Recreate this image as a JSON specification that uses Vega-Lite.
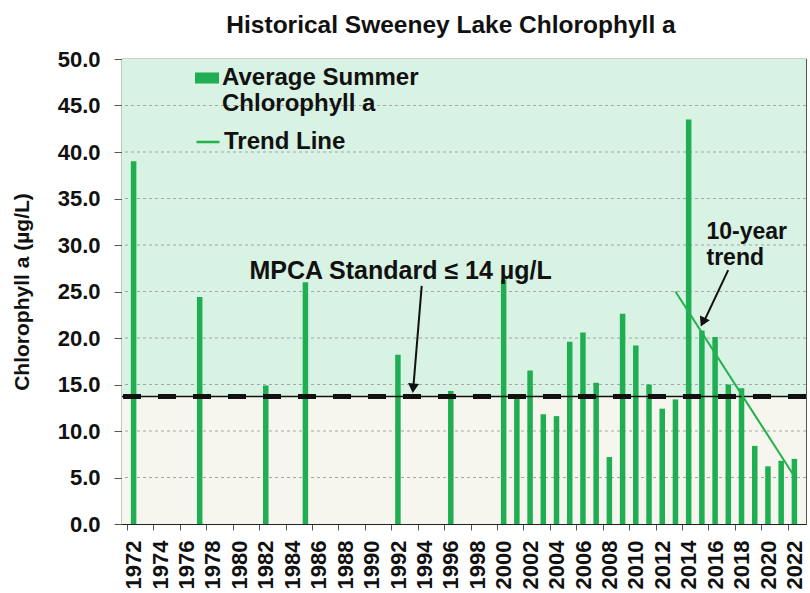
{
  "$schema": "https://vega.github.io/schema/vega-lite/v6.json",
  "width": 684,
  "height": 465,
  "autosize": {"type": "none"},
  "padding": {"left": 122, "top": 59, "right": 4, "bottom": 69},
  "background": "white",
  "title": {"text": "Historical Sweeney Lake Chlorophyll a", "fontSize": 24.5, "fontWeight": "bold", "font": "Liberation Sans", "color": "#111111", "anchor": "middle", "dx": -13, "offset": 10},
  "config": {
    "font": "Liberation Sans",
    "view": {"stroke": "#444444", "strokeWidth": 1.2},
    "axisX": {"labelOverlap": false, "labelBound": false, "labelFlush": false}
  },
  "encoding": {
    "x": {"type": "quantitative", "scale": {"domain": [1971.5, 2022.5], "nice": false, "zero": false},
      "axis": {"title": null, "values": [1971.5, 1973.5, 1975.5, 1977.5, 1979.5, 1981.5, 1983.5, 1985.5, 1987.5, 1989.5, 1991.5, 1993.5, 1995.5, 1997.5, 1999.5, 2001.5, 2003.5, 2005.5, 2007.5, 2009.5, 2011.5, 2013.5, 2015.5, 2017.5, 2019.5, 2021.5],
        "labelExpr": "format(datum.value + 0.5, 'd')", "labelOffset": 6.7, "labelAngle": -90, "labelAlign": "right", "labelBaseline": "middle",
        "labelFontSize": 22, "labelFontWeight": "bold", "labelColor": "#111111", "labelPadding": 10, "tickSize": 6, "tickColor": "#555555", "domainColor": "#222222", "grid": false, "labelOverlap": false, "labelBound": false, "labelFlush": false}},
    "y": {"type": "quantitative", "scale": {"domain": [0, 50], "nice": false},
      "axis": {"title": "Chlorophyll a (µg/L)", "titleFontSize": 21, "titleFontWeight": "bold", "titleColor": "#111111", "titlePadding": 25,
        "values": [0, 5, 10, 15, 20, 25, 30, 35, 40, 45, 50], "format": ".1f", "labelFontSize": 22, "labelFontWeight": "bold", "labelColor": "#111111", "labelPadding": 14, "tickSize": 8, "tickColor": "#555555", "domainColor": "#222222", "grid": false}}
  },
  "layer": [
    {
      "data": {"values": [{"lo": 13.7, "hi": 50}]},
      "mark": {"type": "rect", "fill": "#d8f2e3"},
      "encoding": {"y": {"field": "lo", "type": "quantitative"}, "y2": {"field": "hi"}}
    },
    {
      "data": {"values": [{"lo": 0, "hi": 13.7}]},
      "mark": {"type": "rect", "fill": "#f6f6ef"},
      "encoding": {"y": {"field": "lo", "type": "quantitative"}, "y2": {"field": "hi"}}
    },
    {
      "data": {"values": [{"g": 5}, {"g": 10}, {"g": 15}, {"g": 20}, {"g": 25}, {"g": 30}, {"g": 35}, {"g": 40}, {"g": 45}]},
      "mark": {"type": "rule", "color": "#a5a5a5", "strokeWidth": 1, "strokeDash": [3, 3]},
      "encoding": {"y": {"field": "g", "type": "quantitative"}}
    },
    {
      "data": {"values": [
        {"year": 1972, "value": 39.0, "series": "Average Summer Chlorophyll a"},
        {"year": 1977, "value": 24.4, "series": "Average Summer Chlorophyll a"},
        {"year": 1982, "value": 14.9, "series": "Average Summer Chlorophyll a"},
        {"year": 1985, "value": 26.0, "series": "Average Summer Chlorophyll a"},
        {"year": 1992, "value": 18.2, "series": "Average Summer Chlorophyll a"},
        {"year": 1996, "value": 14.3, "series": "Average Summer Chlorophyll a"},
        {"year": 2000, "value": 26.3, "series": "Average Summer Chlorophyll a"},
        {"year": 2001, "value": 13.6, "series": "Average Summer Chlorophyll a"},
        {"year": 2002, "value": 16.5, "series": "Average Summer Chlorophyll a"},
        {"year": 2003, "value": 11.8, "series": "Average Summer Chlorophyll a"},
        {"year": 2004, "value": 11.6, "series": "Average Summer Chlorophyll a"},
        {"year": 2005, "value": 19.6, "series": "Average Summer Chlorophyll a"},
        {"year": 2006, "value": 20.6, "series": "Average Summer Chlorophyll a"},
        {"year": 2007, "value": 15.2, "series": "Average Summer Chlorophyll a"},
        {"year": 2008, "value": 7.2, "series": "Average Summer Chlorophyll a"},
        {"year": 2009, "value": 22.6, "series": "Average Summer Chlorophyll a"},
        {"year": 2010, "value": 19.2, "series": "Average Summer Chlorophyll a"},
        {"year": 2011, "value": 15.0, "series": "Average Summer Chlorophyll a"},
        {"year": 2012, "value": 12.4, "series": "Average Summer Chlorophyll a"},
        {"year": 2013, "value": 13.4, "series": "Average Summer Chlorophyll a"},
        {"year": 2014, "value": 43.5, "series": "Average Summer Chlorophyll a"},
        {"year": 2015, "value": 20.8, "series": "Average Summer Chlorophyll a"},
        {"year": 2016, "value": 20.1, "series": "Average Summer Chlorophyll a"},
        {"year": 2017, "value": 15.0, "series": "Average Summer Chlorophyll a"},
        {"year": 2018, "value": 14.6, "series": "Average Summer Chlorophyll a"},
        {"year": 2019, "value": 8.4, "series": "Average Summer Chlorophyll a"},
        {"year": 2020, "value": 6.2, "series": "Average Summer Chlorophyll a"},
        {"year": 2021, "value": 6.8, "series": "Average Summer Chlorophyll a"},
        {"year": 2022, "value": 7.0, "series": "Average Summer Chlorophyll a"}
      ]},
      "mark": {"type": "bar", "size": 5.5},
      "encoding": {
        "x": {"field": "year", "type": "quantitative"},
        "y": {"field": "value", "type": "quantitative"},
        "fill": {"field": "series", "type": "nominal",
          "scale": {"domain": ["Average Summer Chlorophyll a"], "range": ["#1fae52"]},
          "legend": {"orient": "none", "legendX": 73, "legendY": 7, "title": null, "padding": 0, "symbolType": "M-1,-0.46H1V0.46H-1Z", "symbolSize": 576, "symbolOpacity": 1, "symbolStrokeWidth": 0, "labelFontSize": 24, "labelFontWeight": "bold", "labelColor": "#111111", "labelLimit": 400, "labelOffset": 3, "labelExpr": "['Average Summer', 'Chlorophyll a']"}}
      }
    },
    {
      "data": {"values": [{"std": 13.7}]},
      "mark": {"type": "rule", "color": "#111111", "strokeWidth": 1.5},
      "encoding": {"y": {"field": "std", "type": "quantitative"}}
    },
    {
      "data": {"values": [{"std": 13.7}]},
      "mark": {"type": "rule", "color": "#111111", "strokeWidth": 5, "strokeDash": [18, 17]},
      "encoding": {"y": {"field": "std", "type": "quantitative"}}
    },
    {
      "data": {"values": [
        {"year": 2013, "value": 25.0, "series": "Trend Line"},
        {"year": 2022, "value": 5.1, "series": "Trend Line"}
      ]},
      "mark": {"type": "line", "strokeWidth": 2},
      "encoding": {
        "x": {"field": "year", "type": "quantitative"},
        "y": {"field": "value", "type": "quantitative"},
        "stroke": {"field": "series", "type": "nominal",
          "scale": {"domain": ["Trend Line"], "range": ["#22b14c"]},
          "legend": {"orient": "none", "legendX": 73, "legendY": 70, "title": null, "padding": 0, "symbolType": "stroke", "symbolSize": 529, "symbolStrokeWidth": 2.5, "labelFontSize": 24, "labelFontWeight": "bold", "labelColor": "#111111", "labelLimit": 400, "labelOffset": 3}}
      }
    },
    {
      "data": {"values": [
        {"x": 1993.8, "y": 25.6, "x2": 1993.15, "y2": 14.4},
        {"x": 2016.99, "y": 27.3, "x2": 2015.1, "y2": 21.6}
      ]},
      "mark": {"type": "rule", "color": "#111111", "strokeWidth": 2},
      "encoding": {
        "x": {"field": "x", "type": "quantitative"},
        "x2": {"field": "x2"},
        "y": {"field": "y", "type": "quantitative"},
        "y2": {"field": "y2"}
      }
    },
    {
      "data": {"values": [{"x": 1993.15, "y": 14.6}]},
      "mark": {"type": "point", "shape": "triangle-down", "filled": true, "color": "#111111", "size": 120, "angle": 5, "opacity": 1},
      "encoding": {"x": {"field": "x", "type": "quantitative"}, "y": {"field": "y", "type": "quantitative"}}
    },
    {
      "data": {"values": [{"x": 2015.07, "y": 21.7}]},
      "mark": {"type": "point", "shape": "triangle-down", "filled": true, "color": "#111111", "size": 120, "angle": 26, "opacity": 1},
      "encoding": {"x": {"field": "x", "type": "quantitative"}, "y": {"field": "y", "type": "quantitative"}}
    },
    {
      "data": {"values": [{"x": 1992.2, "y": 27.2, "label": "MPCA Standard ≤ 14 µg/L"}]},
      "mark": {"type": "text", "fontSize": 25, "fontWeight": "bold", "color": "#111111", "align": "center", "baseline": "middle"},
      "encoding": {"x": {"field": "x", "type": "quantitative"}, "y": {"field": "y", "type": "quantitative"}, "text": {"field": "label"}}
    },
    {
      "data": {"values": [{"x": 2015.35, "y": 31.4, "label": "10-year\ntrend"}]},
      "mark": {"type": "text", "fontSize": 23, "fontWeight": "bold", "color": "#111111", "align": "left", "baseline": "middle", "lineBreak": "\n", "lineHeight": 26},
      "encoding": {"x": {"field": "x", "type": "quantitative"}, "y": {"field": "y", "type": "quantitative"}, "text": {"field": "label"}}
    }
  ]
}
